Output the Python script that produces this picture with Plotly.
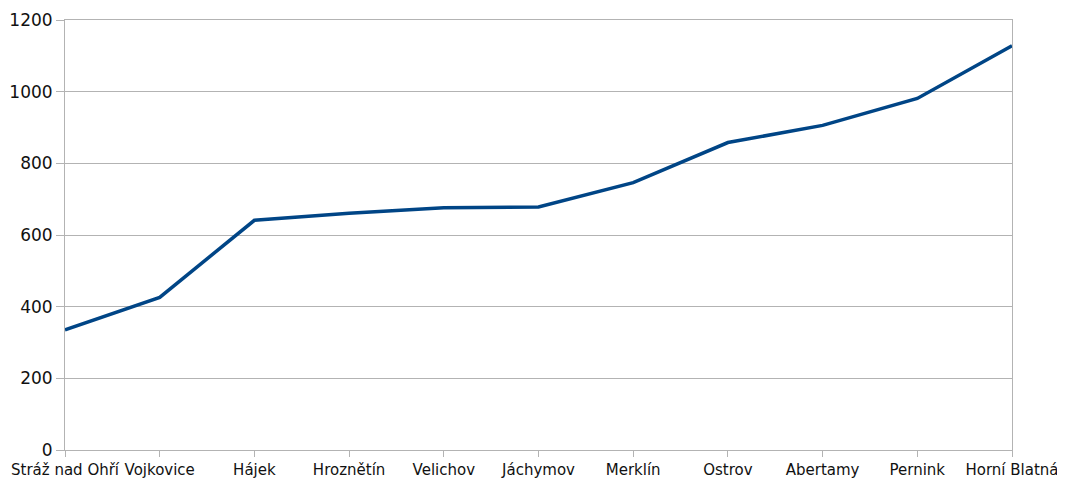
import plotly.graph_objects as go

towns = ["Stráž nad Ohří", "Vojkovice", "Hájek", "Hroznětín", "Velichov", "Jáchymov",
         "Merklín", "Ostrov", "Abertamy", "Pernink", "Horní Blatná"]
values = [335, 426, 641, 661, 676, 678, 746, 858, 906, 981, 1128]
y_ticks = [0, 200, 400, 600, 800, 1000, 1200]

fig = go.Figure()
fig.add_trace(go.Scatter(x=towns, y=values, mode="lines",
                         line=dict(color="#004586", width=3.5), showlegend=False))

fig.update_layout(
    width=1065, height=480,
    margin=dict(l=57, r=61, t=12, b=38),
    paper_bgcolor="white", plot_bgcolor="white",
    font=dict(family="DejaVu Sans", size=15, color="#111111"),
)
fig.update_xaxes(type="category", range=[0, len(towns) - 1], automargin=False,
                 tickangle=0,
                 showgrid=False, showline=True, linecolor="#b3b3b3", linewidth=1,
                 mirror=True, ticks="outside", ticklen=6, tickcolor="#b3b3b3",
                 tickfont=dict(size=15), zeroline=False)
fig.update_yaxes(range=[0, 1200], tickvals=y_ticks, automargin=False,
                 showgrid=True, gridcolor="#b3b3b3",
                 gridwidth=1, showline=True, linecolor="#b3b3b3", linewidth=1,
                 mirror=True, ticks="outside", ticklen=8, tickcolor="#b3b3b3",
                 tickfont=dict(size=17), zeroline=False)

fig.write_html("out.html")
